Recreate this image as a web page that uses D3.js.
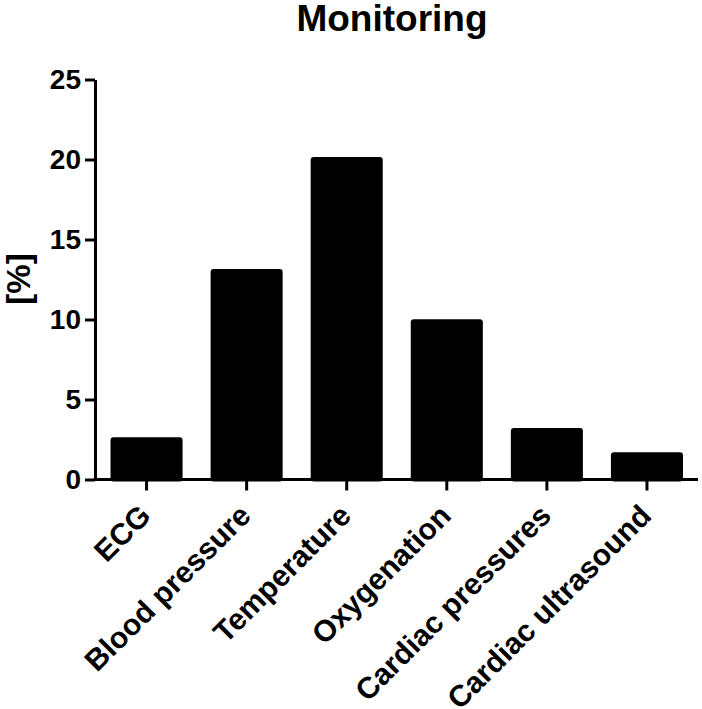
<!DOCTYPE html>
<html>
<head>
<meta charset="utf-8">
<script src="https://cdn.jsdelivr.net/npm/d3@7"></script>
<style>
  body { margin: 0; background: #fff; }
  text { font-family: "Liberation Sans", Arial, sans-serif; font-weight: bold; fill: #000; }
</style>
</head>
<body>
<svg width="702" height="709"></svg>
<script>
var categories = ["ECG", "Blood pressure", "Temperature", "Oxygenation", "Cardiac pressures", "Cardiac ultrasound"];
var values = [2.64, 13.15, 20.15, 10.02, 3.22, 1.7];
var yTicks = [0, 5, 10, 15, 20, 25];

var svg = d3.select("svg");

var x = d3.scaleBand()
    .domain(categories)
    .range([96.5, 697])
    .paddingInner(0.28)
    .paddingOuter(0.14);

var y = d3.scaleLinear()
    .domain([0, 25])
    .range([479.5, 79.5]);

// bars
svg.append("g")
  .selectAll("rect")
  .data(values)
  .enter().append("rect")
    .attr("x", function(d, i) { return x(categories[i]); })
    .attr("y", function(d) { return y(d); })
    .attr("width", x.bandwidth())
    .attr("height", function(d) { return y(0) - y(d) + 2; })
    .attr("rx", 3)
    .attr("fill", "#000");

// y axis
var yAxis = svg.append("g")
    .attr("transform", "translate(95,0)")
    .call(d3.axisLeft(y).tickValues(yTicks).tickSize(10).tickSizeOuter(0).tickPadding(4));
yAxis.select(".domain").attr("stroke-width", 3).attr("stroke", "#000");
yAxis.selectAll(".tick line").attr("stroke-width", 3).attr("stroke", "#000");
yAxis.selectAll(".tick text")
    .attr("font-size", 28)
    .attr("dy", "0.33em");

// x axis
var xAxis = svg.append("g")
    .attr("transform", "translate(0,479.5)");
xAxis.append("line")
    .attr("x1", 93.5).attr("x2", 698)
    .attr("stroke", "#000").attr("stroke-width", 3);
xAxis.selectAll(".xt")
  .data(categories)
  .enter().append("line")
    .attr("class", "xt")
    .attr("x1", function(d) { return x(d) + x.bandwidth() / 2; })
    .attr("x2", function(d) { return x(d) + x.bandwidth() / 2; })
    .attr("y1", 0).attr("y2", 11)
    .attr("stroke", "#000").attr("stroke-width", 3);
xAxis.selectAll(".xl")
  .data(categories)
  .enter().append("text")
    .attr("class", "xl")
    .attr("text-anchor", "end")
    .attr("font-size", 30)
    .attr("transform", function(d) {
      return "translate(" + (x(d) + x.bandwidth() / 2 + 6) + ",38) rotate(-45)";
    })
    .text(function(d) { return d; });

// y label
svg.append("text")
    .attr("transform", "translate(30,279) rotate(-90)")
    .attr("text-anchor", "middle")
    .attr("font-size", 33)
    .text("[%]");

// title
svg.append("text")
    .attr("x", 392)
    .attr("y", 31)
    .attr("text-anchor", "middle")
    .attr("font-size", 37)
    .text("Monitoring");
</script>
</body>
</html>
